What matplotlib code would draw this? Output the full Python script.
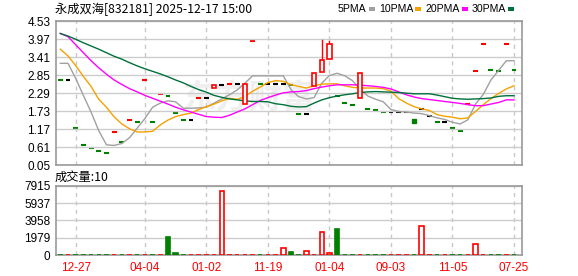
import numpy as np
import matplotlib
matplotlib.use("Agg")
import matplotlib.pyplot as plt
from matplotlib.patches import Rectangle

title = "永成双海[832181] 2025-12-17 15:00"
vol_title = "成交量:10"

opens = [2.69, 2.69, 1.19, 0.68, 0.59, 0.50, 0.43, 1.08, 0.77, 1.46,
         1.39, 2.69, 1.39, 2.25, 2.20, 1.66, 1.46, 1.46, 2.13, 2.13,
         2.44, 2.55, 2.57, 2.57, 1.96, 3.91, 2.57, 2.57, 2.57, 2.57,
         2.55, 1.64, 1.64, 2.52, 2.94, 3.35, 2.20, 1.98, 1.92, 2.13,
         1.80, 1.77, 1.71, 1.71, 1.71, 1.70, 1.49, 1.80, 1.59, 1.39,
         1.39, 1.20, 1.11, 1.95, 2.97, 3.81, 3.01, 2.97, 3.81, 3.01]
closes = [2.69, 2.69, 1.19, 0.68, 0.59, 0.50, 0.43, 1.08, 0.77, 1.46,
          1.39, 2.69, 1.39, 2.25, 2.20, 1.66, 1.46, 1.46, 2.13, 2.13,
          2.53, 2.55, 2.57, 2.57, 2.56, 3.91, 2.57, 2.57, 2.57, 2.57,
          2.55, 1.64, 1.64, 2.91, 3.32, 3.81, 2.20, 1.98, 1.92, 2.91,
          1.80, 1.77, 1.71, 1.71, 1.71, 1.70, 1.37, 1.80, 1.59, 1.39,
          1.39, 1.20, 1.11, 1.95, 2.97, 3.81, 3.01, 2.97, 3.81, 3.01]
highs = [2.69, 2.69, 1.19, 0.68, 0.59, 0.50, 0.43, 1.08, 0.77, 1.46,
         1.39, 2.69, 1.39, 2.25, 2.20, 1.66, 1.46, 1.46, 2.13, 2.13,
         2.53, 2.55, 2.57, 2.57, 2.56, 3.91, 2.57, 2.57, 2.57, 2.57,
         2.55, 1.64, 1.64, 2.91, 3.95, 3.92, 2.20, 1.98, 1.92, 2.91,
         1.80, 1.77, 1.71, 1.71, 1.71, 1.70, 1.49, 1.80, 1.59, 1.39,
         1.39, 1.20, 1.11, 1.95, 2.97, 3.81, 3.01, 2.97, 3.81, 3.01]
lows = [2.69, 2.69, 1.19, 0.68, 0.59, 0.50, 0.43, 1.08, 0.77, 1.46,
        1.39, 2.69, 1.39, 2.25, 2.20, 1.66, 1.46, 1.46, 2.13, 2.13,
        2.44, 2.55, 2.57, 2.57, 1.96, 3.91, 2.57, 2.57, 2.57, 2.57,
        2.55, 1.64, 1.64, 2.52, 2.94, 3.35, 2.20, 1.98, 1.92, 2.13,
        1.80, 1.77, 1.71, 1.71, 1.71, 1.70, 1.37, 1.80, 1.59, 1.39,
        1.39, 1.20, 1.11, 1.95, 2.97, 3.81, 3.01, 2.97, 3.81, 3.01]
# 1 up, -1 down, 0 unchanged
trend = [-1, 0, -1, -1, -1, -1, -1, 1, -1, 1,
         -1, 1, -1, 1, -1, -1, -1, 0, 1, 0,
         1, 0, 1, 0, 1, 1, -1, 0, 0, 0,
         -1, -1, 0, 1, 1, 1, -1, -1, -1, 1,
         -1, -1, -1, 0, 0, 0, -1, 0, 0, -1,
         0, -1, -1, 1, 1, 1, -1, -1, 1, -1]
volumes = [20, 15, 20, 20, 20, 20, 20, 15, 20, 15,
           20, 15, 20, 15, 2060, 260, 20, 15, 15, 15,
           15, 7300, 15, 15, 15, 15, 20, 15, 15, 800,
           340, 20, 420, 15, 2600, 230, 2980, 20, 20, 15,
           20, 20, 20, 15, 15, 15, 20, 3300, 15, 20,
           20, 20, 20, 15, 1260, 15, 20, 20, 15, 10]

ma5 = [3.22, 3.22, 2.75, 2.22, 1.70, 1.12, 0.68, 0.66, 0.72, 0.90,
       1.20, 1.50, 1.85, 1.98, 2.05, 2.02, 1.82, 1.82, 1.83, 1.85,
       1.98, 2.11, 2.24, 2.39, 2.60, 2.83, 2.83, 2.83, 2.83, 2.83,
       2.40, 2.18, 2.11, 2.15, 2.60, 2.84, 2.91, 2.83, 2.68, 2.40,
       2.20, 2.10, 2.02, 1.78, 1.72, 1.70, 1.67, 1.65, 1.59, 1.52,
       1.47, 1.38, 1.33, 1.46, 1.95, 2.25, 2.70, 3.00, 3.30, 3.30]
ma10 = [3.66, 3.45, 3.15, 2.81, 2.50, 2.10, 1.85, 1.55, 1.33, 1.18,
        1.08, 1.08, 1.10, 1.30, 1.45, 1.56, 1.62, 1.67, 1.78, 1.87,
        1.95, 2.05, 2.13, 2.10, 2.18, 2.35, 2.48, 2.62, 2.68, 2.66,
        2.55, 2.50, 2.45, 2.52, 2.57, 2.58, 2.58, 2.52, 2.47, 2.45,
        2.45, 2.45, 2.43, 2.35, 2.12, 1.98, 1.87, 1.80, 1.75, 1.62,
        1.57, 1.54, 1.49, 1.52, 1.72, 1.93, 2.12, 2.28, 2.42, 2.52]
ma20 = [4.15, 4.05, 3.80, 3.55, 3.30, 3.08, 2.88, 2.70, 2.56, 2.43,
        2.33, 2.22, 2.13, 2.04, 1.95, 1.85, 1.77, 1.70, 1.63, 1.56,
        1.54, 1.53, 1.60, 1.70, 1.80, 1.93, 2.06, 2.15, 2.23, 2.30,
        2.33, 2.34, 2.37, 2.43, 2.48, 2.52, 2.55, 2.55, 2.55, 2.54,
        2.52, 2.50, 2.47, 2.42, 2.33, 2.24, 2.17, 2.12, 2.09, 2.06,
        2.03, 2.00, 1.97, 1.93, 1.90, 1.90, 1.95, 2.00, 2.08, 2.08]
ma30 = [4.15, 4.07, 3.97, 3.86, 3.76, 3.66, 3.55, 3.44, 3.35, 3.24,
        3.14, 3.05, 2.97, 2.89, 2.80, 2.70, 2.61, 2.50, 2.40, 2.32,
        2.22, 2.16, 2.11, 2.08, 2.05, 2.03, 2.03, 2.02, 1.96, 1.93,
        1.88, 1.86, 1.87, 1.98, 2.08, 2.15, 2.20, 2.24, 2.27, 2.31,
        2.33, 2.34, 2.33, 2.32, 2.31, 2.29, 2.27, 2.27, 2.27, 2.23,
        2.18, 2.13, 2.11, 2.10, 2.11, 2.12, 2.14, 2.19, 2.21, 2.21]

price_ticks = [0.05, 0.61, 1.17, 1.73, 2.29, 2.85, 3.41, 3.97, 4.53]
vol_ticks = [0, 1979, 3958, 5937, 7915]
date_pos = [2, 11, 19, 27, 35, 43, 51, 59]
date_labels = ["12-27", "04-04", "01-02", "11-19", "01-04", "09-03", "11-05", "07-25"]
ma_names = ["5PMA", "10PMA", "20PMA", "30PMA"]
ma_colors = ["#a0a0a0", "#f5a200", "#ff00ff", "#00703c"]

RED = "#ff0000"
GREEN = "#008000"
cjk = ["Noto Sans CJK SC", "DejaVu Sans"]
plt.rcParams["font.family"] = ["Liberation Sans", "DejaVu Sans"]

W, H = 578, 276
fig = plt.figure(figsize=(W / 100, H / 100), dpi=100)

def px_axes(l, t, r, b):
    return fig.add_axes([l / W, 1 - b / H, (r - l) / W, (b - t) / H])

ax = px_axes(56, 21.3, 522, 165)
axv = px_axes(56, 186, 522, 255)

n = len(closes)
x = np.arange(n)
xlim = (-0.56, n + 0.04)

for a, ticks in ((ax, price_ticks), (axv, vol_ticks)):
    a.set_xlim(*xlim)
    a.set_yticks(ticks)
    a.tick_params(length=0, pad=4, labelsize=8.5)
    a.set_xticks(date_pos)
    a.grid(axis="y", color="#cccccc", lw=1, zorder=0)
    for p in date_pos:
        a.axvline(p, color="#c8c8c8", lw=1, ls=(0, (3, 3)), zorder=0)
    for s in a.spines.values():
        s.set_color("#999999")
        s.set_linewidth(1.2)

ax.set_ylim(price_ticks[0], price_ticks[-1])
ax.set_yticklabels(["%.2f" % v for v in price_ticks])
ax.set_xticklabels([])
axv.set_ylim(0, vol_ticks[-1])
axv.set_yticklabels([str(v) for v in vol_ticks])
axv.set_xticklabels(date_labels, color=RED)
axv.tick_params(axis="x", pad=5)

# watermark
ax.text(24.5, 2.1, "东方财富", family=cjk, fontsize=24, fontweight="bold",
        color="#efefef", ha="center", va="center", zorder=0.5)

# moving averages
for ma, col in zip((ma5, ma10, ma20, ma30), ma_colors):
    ax.plot(x, ma, color=col, lw=1, zorder=2)

# candles
bw = 0.58
for i in range(n):
    o, c, h, l, t = opens[i], closes[i], highs[i], lows[i], trend[i]
    col = RED if t > 0 else (GREEN if t < 0 else "black")
    if abs(c - o) < 0.02:
        ax.plot([i - 0.32, i + 0.32], [c, c], color=col, lw=1.5,
                solid_capstyle="butt", zorder=1.5)
        continue
    lo, hi = min(o, c), max(o, c)
    if h > hi:
        ax.plot([i, i], [hi, h], color=col, lw=1, zorder=3)
    if l < lo:
        ax.plot([i, i], [l, lo], color=col, lw=1, zorder=3)
    if t > 0:
        ax.add_patch(Rectangle((i - bw / 2, lo), bw, hi - lo, facecolor="white",
                               edgecolor=RED, lw=1.2, zorder=3))
    else:
        ax.add_patch(Rectangle((i - bw / 2, lo), bw, hi - lo, facecolor=GREEN,
                               edgecolor=GREEN, lw=1, zorder=3))

# volume bars
for i in range(n):
    if trend[i] >= 0:
        axv.bar(i, volumes[i], width=bw, facecolor="white", edgecolor=RED,
                lw=1.2, zorder=3)
    else:
        axv.bar(i, volumes[i], width=bw, facecolor=GREEN, edgecolor=GREEN,
                lw=1.2, zorder=3)

# header texts
fig.text(55 / W, 1 - 9 / H, title, family=cjk, fontsize=8.8, va="center", ha="left")
fig.text(55 / W, 1 - 177 / H, vol_title, family=cjk, fontsize=8.8, va="center", ha="left")

# legend: label followed by a small colour block
label_x = [338, 379, 426, 472]
renderer = fig.canvas.get_renderer()
for name, col, lx in zip(ma_names, ma_colors, label_x):
    t = fig.text(lx / W, 1 - 9 / H, name, fontsize=7.6, va="center", ha="left")
    bb = t.get_window_extent(renderer=renderer)
    fig.patches.append(Rectangle(((bb.x1 + 2) / W, 1 - 10.5 / H), 6 / W, 3 / H,
                                 transform=fig.transFigure, facecolor=col,
                                 edgecolor="none"))

fig.savefig("out.png", dpi=100)
